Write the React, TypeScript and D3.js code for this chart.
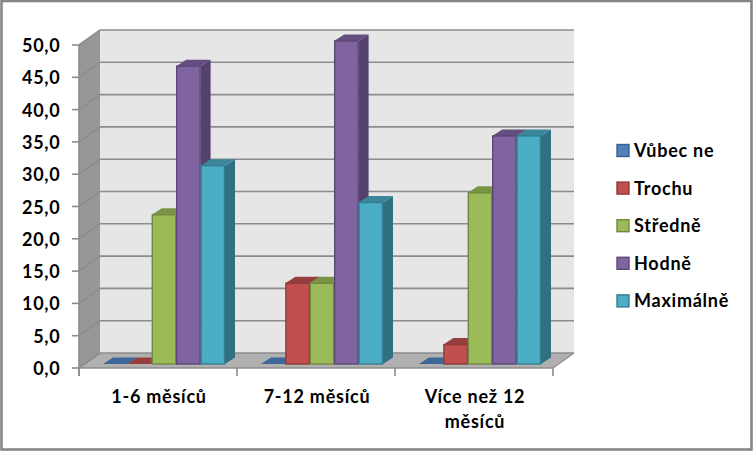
import React from "react";
import * as d3 from "d3";

const categories = ["1-6 měsíců", "7-12 měsíců", "Více než 12 měsíců"];
const categoryLines = [["1-6 měsíců"], ["7-12 měsíců"], ["Více než 12", "měsíců"]];
const seriesNames = ["Vůbec ne", "Trochu", "Středně", "Hodně", "Maximálně"];
const vubecNe = [0, 0, 0];
const trochu = [0, 12.5, 3.0];
const stredne = [23.1, 12.5, 26.5];
const hodne = [46.1, 50, 35.3];
const maximalne = [30.7, 25, 35.3];
const seriesValues = [vubecNe, trochu, stredne, hodne, maximalne];
const ticks = [0, 5, 10, 15, 20, 25, 30, 35, 40, 45, 50];
const front = ["#4F81BD", "#C0504D", "#9BBB59", "#8064A2", "#4BACC6"];
const stroke = ["#3A6090", "#8E3B39", "#71893F", "#5C4776", "#357D91"];
const side = ["#33557F", "#7F3533", "#667C3A", "#54416C", "#2F7082"];
const top = ["#3D6797", "#963E3C", "#7A9345", "#644E7F", "#3A869B"];
const font = "Lato, 'Open Sans', sans-serif";
const textStyle = { fontSize: 18, fontWeight: 700, letterSpacing: 0.75, fill: "#000" };

export default function App() {
  React.useEffect(() => { document.body.style.margin = "0"; }, []);
  const x0 = 79, x1 = 553, wdx = 21, wdy = -15;
  const y = d3.scaleLinear().domain([0, 50]).range([368, 45]);
  const barY = d3.scaleLinear().domain([0, 50]).range([364, 41]);
  const xCat = d3.scaleBand<number>().domain([0, 1, 2]).range([x0, x1]);
  const barW = 24.4, inset = 24, dx = 10, dy = -6.5;
  const pts = (p: number[][]) => p.map((q) => q.join(",")).join(" ");
  const fmt = (t: number) => t.toFixed(1).replace(".", ",");
  const gridCol = "#8c8c8c";
  return (
    <svg width={753} height={451} style={{ display: "block", background: "#fff" }} fontFamily={font}>
      <rect x={1.5} y={1} width={750} height={448.5} fill="#fff" stroke="#868686" strokeWidth={2.6} />
      <polygon points={pts([[x0 + wdx, y(50) + wdy], [x1 + wdx, y(50) + wdy], [x1 + wdx, y(0) + wdy], [x0 + wdx, y(0) + wdy]])} fill="#e6e6e6" />
      <polygon points={pts([[x0, y(0)], [x0, y(50)], [x0 + wdx, y(50) + wdy], [x0 + wdx, y(0) + wdy]])} fill="#979797" />
      <polygon points={pts([[x0, y(0)], [x0 + wdx, y(0) + wdy], [x1 + wdx, y(0) + wdy], [x1, y(0)]])} fill="#b0b0b0" />
      {ticks.map((t) => (
        <g key={t}>
          <polyline points={pts([[x0, y(t)], [x0 + wdx, y(t) + wdy], [x1 + wdx, y(t) + wdy]])} fill="none" stroke={gridCol} strokeWidth={1.6} />
          <line x1={x0 - 7} x2={x0} y1={y(t)} y2={y(t)} stroke={gridCol} strokeWidth={1.6} />
          <text x={60.5} y={y(t) + 7} textAnchor="end" style={textStyle}>{fmt(t)}</text>
        </g>
      ))}
      <line x1={x0} x2={x0} y1={y(50)} y2={y(0) + 8} stroke={gridCol} strokeWidth={1.6} />
      <line x1={x0} x2={x1} y1={y(0)} y2={y(0)} stroke={gridCol} strokeWidth={1.6} />
      <line x1={x1} x2={x1 + wdx} y1={y(0)} y2={y(0) + wdy} stroke={gridCol} strokeWidth={1.2} />
      {[0, 1, 2, 3].map((i) => {
        const tx = x0 + i * xCat.step();
        return <line key={i} x1={tx} x2={tx} y1={y(0)} y2={y(0) + 8} stroke={gridCol} strokeWidth={1.6} />;
      })}
      {categories.map((c, ci) => {
        const gx = (xCat(ci) as number) + inset;
        return (
          <g key={c}>
            {seriesValues.map((vals, si) => {
              const v = vals[ci];
              const l = gx + si * barW, r = l + barW, b = barY(0), t = barY(v);
              if (v === 0) {
                return <polygon key={si} points={pts([[l, b], [r, b], [r + dx, b + dy], [l + dx, b + dy]])} fill={top[si]} />;
              }
              return (
                <g key={si}>
                  <polygon points={pts([[r, b], [r + dx, b + dy], [r + dx, t + dy], [r, t]])} fill={side[si]} />
                  <polygon points={pts([[l, t], [r, t], [r + dx, t + dy], [l + dx, t + dy]])} fill={top[si]} />
                  <rect x={l + 0.5} y={t} width={barW - 1} height={b - t} fill={front[si]} stroke={stroke[si]} strokeWidth={1.4} />
                </g>
              );
            })}
            {categoryLines[ci].map((ln, li) => (
              <text key={li} x={(xCat(ci) as number) + xCat.bandwidth() / 2 + 1} y={403 + li * 25} textAnchor="middle" style={textStyle}>{ln}</text>
            ))}
          </g>
        );
      })}
      {seriesNames.map((n, i) => {
        const ly = 150.5 + i * 37.6;
        return (
          <g key={n}>
            <rect x={617} y={ly - 6} width={12} height={12} fill={front[i]} stroke={stroke[i]} strokeWidth={1.4} />
            <text x={634} y={ly + 6.5} style={textStyle}>{n}</text>
          </g>
        );
      })}
    </svg>
  );
}
